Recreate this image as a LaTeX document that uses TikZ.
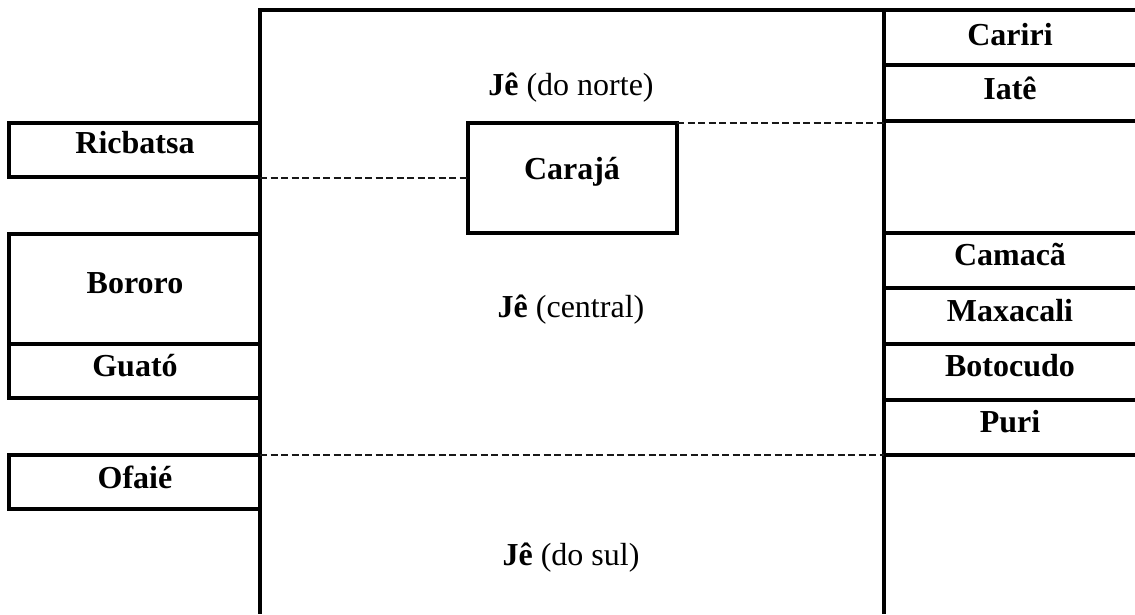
\documentclass[tikz,border=0pt]{standalone}
\usepackage{fontspec}
\setmainfont{Liberation Serif}
\begin{document}
\begin{tikzpicture}[x=1pt,y=-1pt,
  rule/.style={line width=3.6pt},
  dashrule/.style={line width=2pt,black!90,dash pattern=on 7pt off 3.5pt},
  lbl/.style={font=\fontsize{32}{38}\selectfont\bfseries,inner sep=0pt,anchor=center},
  plain/.style={font=\fontsize{32}{38}\selectfont,inner sep=0pt,anchor=center}]
\useasboundingbox (0,0) rectangle (1135,614);
% main frame
\coordinate (mtl) at (260,10);
\coordinate (mtr) at (884,10);
\coordinate (mbl) at (260,614);
\coordinate (mbr) at (884,614);
\draw[rule] (260,8.2) -- (mbl);
\draw[rule] (mtl) -- (mtr);
\draw[rule] (884,8.2) -- (mbr);
% left boxes
\draw[rule] (9,123) rectangle (260,177);
\draw[rule] (9,234) rectangle (260,344);
\draw[rule] (9,344) rectangle (260,398);
\draw[rule] (9,455) rectangle (260,509);
% right column rules
\foreach \yy in {10,65,121,233,288,344,400,455}
  \draw[rule] (884,\yy) -- (1135,\yy);
% Caraja box
\draw[rule] (468,123) rectangle (677,233);
\coordinate (carTL) at (468,178);
\coordinate (carTR) at (677,123);
\coordinate (leftA) at (260,178);
\coordinate (rightA) at (884,123);
\coordinate (leftS) at (260,455);
\coordinate (rightS) at (884,455);
\draw[dashrule] (carTR) -- (rightA);
\draw[dashrule] (leftA) -- (carTL);
\draw[dashrule] (leftS) -- (rightS);
% labels
\node[lbl] (ricbatsa) at (135,143) {Ricbatsa};
\node[lbl] (bororo) at (135,283) {Bororo};
\node[lbl] (guato) at (135,366) {Guató};
\node[lbl] (ofaie) at (135,477) {Ofaié};
\node[lbl] (caraja) at (572,172) {Carajá};
\node[plain] (jenorte) at (571,88) {\textbf{Jê} (do norte)};
\node[plain] (jecentral) at (571,310) {\textbf{Jê} (central)};
\node[plain] (jesul) at (571,558) {\textbf{Jê} (do sul)};
\node[lbl] (cariri) at (1010,35) {Cariri};
\node[lbl] (iate) at (1010,88) {Iatê};
\node[lbl] (camaca) at (1010,255) {Camacã};
\node[lbl] (maxacali) at (1010,311) {Maxacali};
\node[lbl] (botocudo) at (1010,366) {Botocudo};
\node[lbl] (puri) at (1010,422) {Puri};
\end{tikzpicture}
\end{document}
